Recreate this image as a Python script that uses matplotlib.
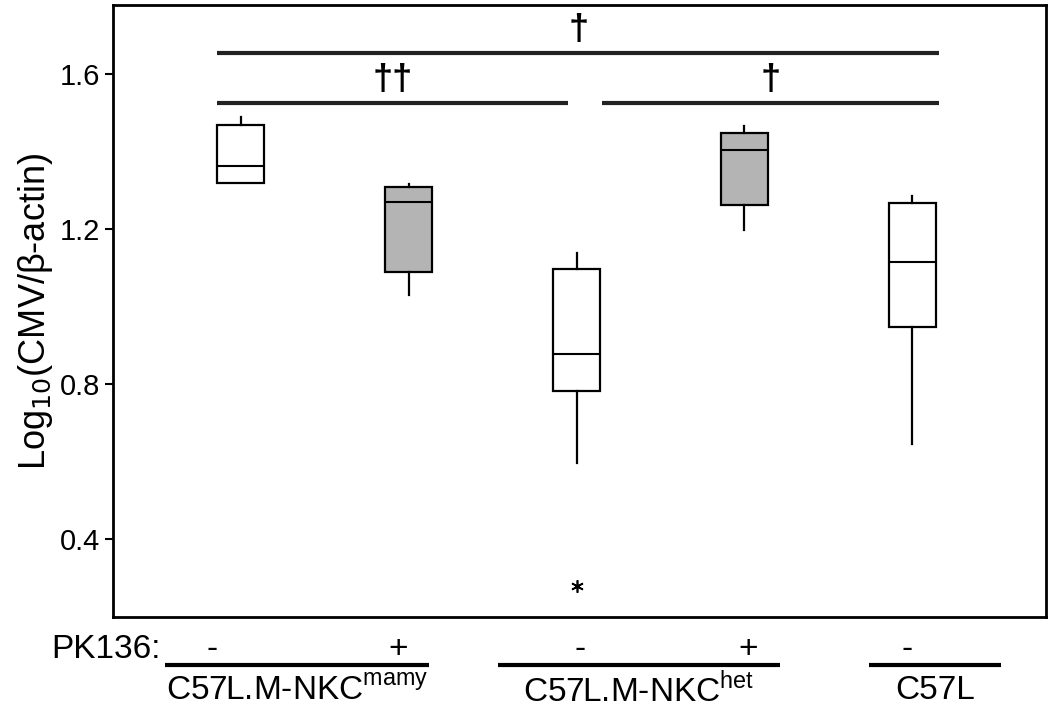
import matplotlib
matplotlib.use('Agg')
import matplotlib.pyplot as plt

plt.rcParams['font.family'] = ['Liberation Sans', 'DejaVu Sans']

# box statistics (log10 CMV / beta-actin)
positions = [1, 2, 3, 4, 5]
q1 = [1.319, 1.089, 0.782, 1.262, 0.947]
medians = [1.363, 1.270, 0.877, 1.404, 1.115]
q3 = [1.468, 1.308, 1.097, 1.448, 1.267]
whis_low = [1.319, 1.030, 0.596, 1.197, 0.645]
whis_high = [1.489, 1.316, 1.138, 1.466, 1.285]
outliers = [[], [], [0.279], [], []]
box_colors = ['white', '#b4b4b4', 'white', '#b4b4b4', 'white']

pk136 = ['-', '+', '-', '+', '-']
pk136_x = [0.83, 1.94, 3.02, 4.02, 4.97]
groups = ['C57L.M-NKC$^{\\mathregular{mamy}}$', 'C57L.M-NKC$^{\\mathregular{het}}$', 'C57L']
underlines = [(0.55, 2.12), (2.53, 4.21), (4.74, 5.53)]

# significance bars: (x start, x end, y, label)
sig_bars = [(0.86, 5.16, 1.654, '\u2020'),
            (0.86, 2.95, 1.525, '\u2020\u2020'),
            (3.15, 5.16, 1.525, '\u2020')]

fig = plt.figure(figsize=(10.5, 7.14), dpi=100)
ax = fig.add_axes([0.1076, 0.136, 0.889, 0.857])

stats = []
for i in range(len(positions)):
    stats.append({'med': medians[i], 'q1': q1[i], 'q3': q3[i],
                  'whislo': whis_low[i], 'whishi': whis_high[i],
                  'fliers': outliers[i]})

bp = ax.bxp(stats, positions=positions, widths=0.28, patch_artist=True,
            showcaps=False,
            boxprops=dict(linewidth=1.6, edgecolor='black'),
            medianprops=dict(color='black', linewidth=1.5),
            whiskerprops=dict(color='black', linewidth=1.6),
            flierprops=dict(marker=(6, 2, 0), markersize=9,
                            markeredgecolor='black', markeredgewidth=1.2))
for patch, c in zip(bp['boxes'], box_colors):
    patch.set_facecolor(c)

for x0, x1, y, lab in sig_bars:
    ax.plot([x0, x1], [y, y], color='#222222', linewidth=3,
            solid_capstyle='butt')
    ax.text((x0 + x1) / 2, y + 0.012, lab, ha='center', va='bottom',
            fontsize=26, fontweight='bold')

ax.set_xlim(0.238, 5.80)
ax.set_ylim(0.199, 1.778)
ax.set_yticks([0.4, 0.8, 1.2, 1.6])
ax.set_yticklabels(['0.4', '0.8', '1.2', '1.6'])
ax.tick_params(axis='y', labelsize=21, length=6, width=1.5, pad=3)
ax.set_xticks([])
for s in ax.spines.values():
    s.set_linewidth(2)
ax.set_ylabel('Log$_{10}$(CMV/\u03b2-actin)', fontsize=26, labelpad=4)

# treatment row and group labels below the axes
trans = ax.get_xaxis_transform()
ax.text(0.52, -0.054, 'PK136:', transform=trans, ha='right',
        va='center', fontsize=24)
for x, s in zip(pk136_x, pk136):
    ax.text(x, -0.054, s, transform=trans, ha='center',
            va='center', fontsize=24)

for (x0, x1), g in zip(underlines, groups):
    ax.plot([x0, x1], [-0.079, -0.079], transform=trans, color='black',
            linewidth=3, clip_on=False, solid_capstyle='butt')
    ax.text((x0 + x1) / 2, -0.121, g, transform=trans, ha='center',
            va='center', fontsize=24)

plt.savefig('out.png', dpi=100)
